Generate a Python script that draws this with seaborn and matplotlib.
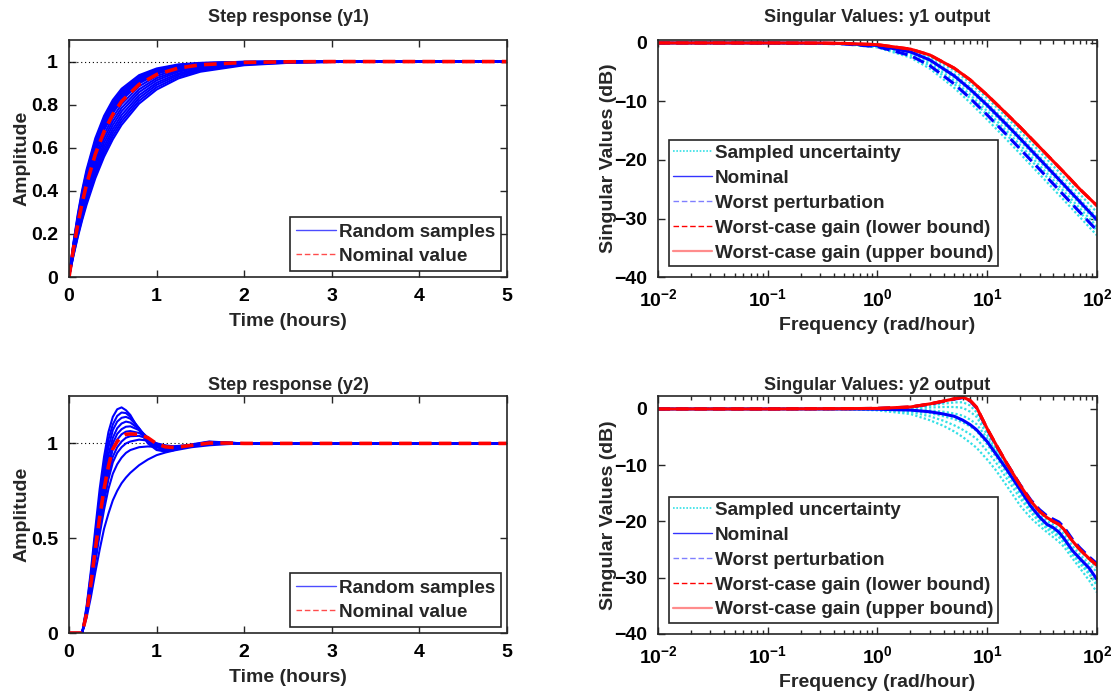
import numpy as np
import pandas as pd
import seaborn as sns
import matplotlib.pyplot as plt
from matplotlib.lines import Line2D
from matplotlib.ticker import LogLocator, NullFormatter

# ---- step response y1 ----
t1 = [0, 0.05, 0.1, 0.15, 0.2, 0.3, 0.4, 0.5, 0.6, 0.8, 1.0, 1.25, 1.5, 2.0, 2.5, 3.0, 4.0, 5.0]
y1_samples = [
    [0, .158, .292, .404, .498, .644, .748, .822, .874, .937, .968, .987, .994, .999, 1, 1, 1, 1],
    [0, .154, .283, .393, .487, .632, .736, .811, .865, .930, .964, .984, .993, .999, 1, 1, 1, 1],
    [0, .149, .276, .384, .475, .620, .725, .801, .856, .924, .960, .982, .992, .998, 1, 1, 1, 1],
    [0, .145, .268, .374, .465, .608, .713, .790, .847, .918, .956, .980, .991, .998, 1, 1, 1, 1],
    [0, .141, .261, .365, .454, .597, .702, .780, .838, .911, .952, .977, .989, .998, 1, 1, 1, 1],
    [0, .137, .255, .357, .445, .586, .691, .770, .829, .905, .947, .975, .988, .997, .999, 1, 1, 1],
    [0, .133, .249, .349, .435, .576, .681, .760, .820, .898, .943, .972, .986, .997, .999, 1, 1, 1],
    [0, .126, .237, .333, .418, .556, .661, .741, .802, .885, .933, .966, .983, .996, .999, 1, 1, 1],
    [0, .120, .226, .319, .401, .537, .642, .723, .785, .871, .923, .959, .979, .994, .998, 1, 1, 1],
    [0, .115, .217, .307, .386, .519, .623, .705, .769, .858, .913, .953, .974, .992, .998, .999, 1, 1],
    [0, .110, .208, .295, .372, .502, .605, .687, .752, .844, .902, .945, .969, .990, .997, .999, 1, 1],
    [0, .105, .199, .283, .359, .487, .589, .671, .736, .831, .892, .938, .964, .988, .996, .999, 1, 1],
    [0, .101, .192, .273, .347, .472, .573, .655, .721, .818, .881, .930, .959, .986, .995, .998, 1, 1],
    [0, .097, .185, .264, .335, .458, .558, .639, .706, .805, .870, .922, .953, .983, .994, .998, 1, 1],
]
y1_nominal = [0, .130, .245, .344, .430, .570, .675, .755, .815, .894, .940, .970, .985, .996, .999, 1, 1, 1]

# ---- step response y2 ----
t2 = [0, 0.15, 0.2, 0.25, 0.3, 0.35, 0.4, 0.45, 0.5, 0.55, 0.6, 0.65, 0.7, 0.8, 0.9,
      1.0, 1.1, 1.2, 1.4, 1.6, 1.8, 2.0, 2.5, 3.0, 4.0, 5.0]
y2_samples = [
    [0, 0, .14, .33, .55, .76, .93, 1.06, 1.14, 1.18, 1.19, 1.175, 1.15, 1.07, 1.0, .965, .957, .965, .995, 1.01, 1.005, 1.0, 1, 1, 1, 1],
    [0, 0, .13, .31, .52, .72, .89, 1.02, 1.10, 1.145, 1.163, 1.16, 1.14, 1.08, 1.01, .97, .96, .965, .993, 1.008, 1.004, 1.0, 1, 1, 1, 1],
    [0, 0, .12, .29, .49, .68, .85, .98, 1.07, 1.115, 1.135, 1.14, 1.13, 1.08, 1.02, .98, .965, .967, .99, 1.006, 1.004, 1.0, 1, 1, 1, 1],
    [0, 0, .115, .28, .47, .65, .81, .94, 1.03, 1.08, 1.105, 1.115, 1.11, 1.075, 1.03, .985, .968, .968, .99, 1.005, 1.003, 1.0, 1, 1, 1, 1],
    [0, 0, .11, .27, .45, .62, .78, .90, 1.0, 1.05, 1.075, 1.088, 1.09, 1.07, 1.03, .99, .972, .97, .99, 1.004, 1.003, 1, 1, 1, 1, 1],
    [0, 0, .105, .26, .43, .60, .75, .87, .97, 1.02, 1.048, 1.062, 1.065, 1.055, 1.03, .995, .978, .973, .99, 1.003, 1.002, 1, 1, 1, 1, 1],
    [0, 0, .10, .25, .41, .57, .72, .84, .93, .98, 1.01, 1.03, 1.038, 1.04, 1.025, 1.0, .985, .978, .99, 1.002, 1.002, 1, 1, 1, 1, 1],
    [0, 0, .095, .24, .39, .55, .69, .81, .90, .95, .98, 1.0, 1.01, 1.02, 1.015, 1.0, .99, .984, .99, 1.0, 1.001, 1, 1, 1, 1, 1],
    [0, 0, .09, .22, .37, .52, .65, .76, .84, .89, .925, .95, .965, .98, .984, .982, .982, .985, .993, 1.0, 1.0, 1, 1, 1, 1, 1],
    [0, 0, .08, .19, .32, .44, .55, .63, .70, .75, .79, .82, .845, .885, .915, .938, .952, .963, .98, .99, .996, 1.0, 1, 1, 1, 1],
]
y2_nominal = [0, 0, .10, .26, .44, .61, .76, .88, .97, 1.01, 1.035, 1.048, 1.05, 1.048, 1.03, .998, .982, .978, .99, 1.002, 1.002, 1, 1, 1, 1, 1]

# ---- singular values, y1 output (dB) ----
w1 = [0.01, 0.1, 0.3, 0.5, 1, 2, 3, 5, 7, 10, 15, 20, 30, 50, 70, 100]
sv1_samples = [
    [0, 0, -.03, -.09, -.33, -1.19, -2.32, -4.71, -6.85, -9.46, -12.7, -15.1, -18.55, -22.94, -25.86, -28.95],
    [0, 0, -.04, -.10, -.40, -1.41, -2.71, -5.32, -7.57, -10.26, -13.55, -15.96, -19.42, -23.82, -26.74, -29.83],
    [0, -.005, -.045, -.125, -.475, -1.65, -3.1, -5.9, -8.24, -10.99, -14.31, -16.74, -20.21, -24.62, -27.54, -30.63],
    [0, -.006, -.053, -.146, -.557, -1.9, -3.49, -6.46, -8.87, -11.67, -15.02, -17.46, -20.94, -25.36, -28.27, -31.37],
    [0, -.007, -.06, -.17, -.64, -2.15, -3.87, -6.99, -9.46, -12.3, -15.68, -18.13, -21.6, -26.03, -28.95, -32.04],
    [0, -.008, -.075, -.205, -.77, -2.49, -4.38, -7.66, -10.21, -13.09, -16.49, -18.95, -22.44, -26.86, -29.78, -32.87],
]
sv1_nominal = [0, -.005, -.04, -.11, -.44, -1.53, -2.9, -5.61, -7.91, -10.63, -13.94, -16.36, -19.83, -24.23, -27.15, -30.24]
sv1_worst = [0, -.007, -.06, -.17, -.64, -2.15, -3.87, -6.99, -9.46, -12.3, -15.68, -18.13, -21.6, -26.03, -28.95, -32.04]
sv1_lower = [0, 0, -.02, -.08, -.29, -1.05, -2.05, -4.3, -6.3, -8.9, -12.1, -14.4, -17.8, -22.1, -25.0, -27.8]
sv1_upper = [0, 0, -.02, -.08, -.29, -1.05, -2.05, -4.3, -6.3, -8.9, -12.1, -14.4, -17.8, -22.1, -25.0, -27.8]

# ---- singular values, y2 output (dB) ----
w2 = [0.01, 0.1, 0.5, 1, 2, 3, 4, 5, 6, 7, 8, 10, 12, 15, 20, 25, 30, 35, 40, 45, 50, 60, 70, 85, 100]
sv2_samples = [
    [0, 0, 0, .05, .25, .6, .95, 1.15, 1.2, .6, -.6, -4.0, -6.8, -10.0, -13.9, -16.6, -18.4, -19.5, -20.1, -20.7, -21.6, -23.6, -25.2, -26.9, -28.2],
    [0, 0, 0, 0, .1, .25, .35, .35, .2, -.5, -1.4, -4.6, -7.3, -10.5, -14.2, -16.9, -18.8, -19.9, -20.6, -21.3, -22.3, -24.4, -25.9, -27.6, -29.0],
    [0, 0, 0, -.05, -.1, -.25, -.5, -.8, -1.2, -1.9, -2.7, -5.2, -7.6, -10.6, -14.6, -17.5, -19.4, -20.7, -21.4, -22.2, -23.3, -25.5, -27.0, -28.8, -30.6],
    [0, 0, -.01, -.1, -.3, -.75, -1.3, -1.8, -2.4, -3.1, -3.9, -6.3, -8.5, -11.4, -15.2, -18.0, -19.8, -21.0, -21.7, -22.5, -23.5, -25.7, -27.2, -29.1, -31.0],
    [0, 0, -.02, -.15, -.55, -1.3, -2.1, -2.9, -3.7, -4.5, -5.3, -7.5, -9.5, -12.3, -15.9, -18.4, -20.1, -21.3, -22.1, -22.8, -23.8, -25.9, -27.5, -29.4, -31.4],
    [0, 0, -.03, -.25, -.9, -2.0, -3.0, -4.0, -5.0, -6.0, -6.9, -9.0, -10.9, -13.6, -17.2, -19.4, -20.8, -21.9, -22.8, -23.6, -24.5, -26.6, -28.3, -30.5, -32.6],
]
sv2_nominal = [0, 0, 0, -.05, -.2, -.5, -.9, -1.3, -2.0, -2.8, -3.7, -5.8, -8.0, -10.7, -14.4, -17.3, -19.2, -20.5, -21.1, -21.9, -23.0, -25.2, -26.6, -28.3, -30.3]
sv2_worst = [0, 0, .05, .1, .33, .85, 1.35, 1.75, 2.0, 1.4, .2, -3.6, -6.4, -9.6, -13.5, -16.2, -17.9, -19.0, -19.6, -20.1, -21.0, -23.2, -24.7, -26.3, -27.5]
sv2_lower = [0, 0, .05, .1, .35, .9, 1.4, 1.8, 2.1, 1.5, .3, -3.5, -6.3, -9.6, -13.6, -16.4, -18.2, -19.3, -20.0, -20.5, -21.4, -23.5, -25.0, -26.6, -27.8]
sv2_upper = [0, 0, .05, .1, .35, .9, 1.4, 1.8, 2.1, 1.5, .3, -3.5, -6.3, -9.6, -13.6, -16.4, -18.2, -19.3, -20.0, -20.5, -21.4, -23.5, -25.0, -26.6, -27.8]

# ---- style ----
sns.set_theme(style="ticks")
plt.rcParams["font.family"] = ["Liberation Sans", "DejaVu Sans"]
plt.rcParams["font.weight"] = "bold"
plt.rcParams["axes.labelweight"] = "bold"
plt.rcParams["axes.titleweight"] = "bold"
plt.rcParams["mathtext.fontset"] = "custom"
plt.rcParams["mathtext.rm"] = "Liberation Sans:bold"
plt.rcParams["mathtext.it"] = "Liberation Sans:bold"
plt.rcParams["mathtext.bf"] = "Liberation Sans:bold"

TICK_FS = 14
LABEL_FS = 14
TITLE_FS = 13
LEG_FS = 13.6
EDGE = "#262626"


def style_axes(ax):
    for s in ax.spines.values():
        s.set_visible(True)
        s.set_color(EDGE)
        s.set_linewidth(1.2)
    ax.tick_params(which="both", direction="in", top=True, right=True, colors=EDGE,
                   labelcolor="black", labelsize=TICK_FS, width=1)
    ax.tick_params(which="major", length=5)
    ax.tick_params(which="minor", length=3)
    ax.tick_params(axis="x", which="major", pad=8)
    ax.tick_params(axis="y", which="major", pad=8)
    ax.grid(False)


def long_df(x, curves, xname, yname):
    return pd.DataFrame({
        xname: np.tile(x, len(curves)),
        yname: np.concatenate(curves),
        "run": np.repeat(np.arange(len(curves)), len(x)),
    })


def legend_box(ax, handles, labels, loc, hl, bap, spacing, bpad):
    leg = ax.legend(handles, labels, loc=loc, fontsize=LEG_FS, frameon=True,
                    fancybox=False, framealpha=1, handlelength=hl, handletextpad=0.15,
                    borderpad=bpad, labelspacing=spacing, borderaxespad=bap)
    leg.get_frame().set_edgecolor(EDGE)
    leg.get_frame().set_linewidth(1.2)


def step_panel(ax, t, samples, nominal, title, ylim, yticks, yticklabels, tpad):
    df = long_df(t, samples, "Time", "Amplitude")
    ax.axhline(1, color="black", lw=0.8, ls=(0, (1, 2.5)), zorder=1)
    sns.lineplot(data=df, x="Time", y="Amplitude", units="run", estimator=None,
                 color="#0000ff", lw=1.5, ax=ax, legend=False)
    sns.lineplot(x=t, y=nominal, color="#ff0000", lw=2.6, ax=ax,
                 dashes=False, linestyle=(0, (3.5, 2)))
    ax.set_xlim(0, 5)
    ax.set_ylim(*ylim)
    ax.set_xticks([0, 1, 2, 3, 4, 5])
    ax.set_yticks(yticks)
    ax.set_yticklabels(yticklabels)
    ax.set_title(title, fontsize=TITLE_FS, pad=tpad)
    ax.set_xlabel("Time (hours)", fontsize=LABEL_FS, labelpad=6)
    ax.set_ylabel("Amplitude", fontsize=LABEL_FS, labelpad=0)
    style_axes(ax)
    handles = [Line2D([], [], color="#0000ff", lw=1.0, alpha=0.7),
               Line2D([], [], color="#ff0000", lw=1.0, ls=(0, (4, 2)), alpha=0.7)]
    legend_box(ax, handles, ["Random samples", "Nominal value"], "lower right",
               2.1, 0.3, 0.36, 0.34)


def sv_panel(ax, w, samples, nominal, worst, lower, upper, title, ylim, tpad):
    df = long_df(w, samples, "Frequency", "dB")
    sns.lineplot(data=df, x="Frequency", y="dB", units="run", estimator=None,
                 color="#33e0e6", lw=1.6, ax=ax, legend=False, dashes=False,
                 linestyle=(0, (1, 1)))
    sns.lineplot(x=w, y=nominal, color="#0000ff", lw=2.2, ax=ax)
    sns.lineplot(x=w, y=worst, color="#0000ff", lw=2.2, ax=ax, dashes=False,
                 linestyle=(0, (4, 2)))
    sns.lineplot(x=w, y=lower, color="#ff0000", lw=2.2, ax=ax, dashes=False,
                 linestyle=(0, (4, 2)))
    sns.lineplot(x=w, y=upper, color="#ff0000", lw=2.2, ax=ax)
    ax.set_xscale("log")
    ax.set_xlim(1e-2, 1e2)
    ax.set_ylim(*ylim)
    ax.set_xticks([1e-2, 1e-1, 1e0, 1e1, 1e2])
    ax.set_xticklabels([r"$10^{-2}$", r"$10^{-1}$", r"$10^{0}$", r"$10^{1}$", r"$10^{2}$"])
    ax.xaxis.set_minor_locator(LogLocator(base=10, subs=np.arange(2, 10), numticks=20))
    ax.xaxis.set_minor_formatter(NullFormatter())
    ax.set_yticks([0, -10, -20, -30, -40])
    ax.set_title(title, fontsize=TITLE_FS, pad=tpad)
    ax.set_xlabel("Frequency (rad/hour)", fontsize=LABEL_FS, labelpad=5)
    ax.set_ylabel("Singular Values (dB)", fontsize=LABEL_FS, labelpad=-2)
    style_axes(ax)
    handles = [Line2D([], [], color="#33e0e6", lw=1.2, ls=(0, (1, 1))),
               Line2D([], [], color="#0000ff", lw=1.0, alpha=0.8),
               Line2D([], [], color="#0000ff", lw=1.0, ls=(0, (4, 2)), alpha=0.5),
               Line2D([], [], color="#ff0000", lw=1.0, ls=(0, (4, 2))),
               Line2D([], [], color="#ff0000", lw=1.6, alpha=0.45)]
    labels = ["Sampled uncertainty", "Nominal", "Worst perturbation",
              "Worst-case gain (lower bound)", "Worst-case gain (upper bound)"]
    legend_box(ax, handles, labels, "lower left", 2.05, 0.6, 0.41, 0.22)


fig = plt.figure(figsize=(11.15, 6.95), dpi=100)
ax1 = fig.add_axes([0.0619, 0.6014, 0.3928, 0.341])
ax2 = fig.add_axes([0.5901, 0.6014, 0.3937, 0.341])
ax3 = fig.add_axes([0.0619, 0.0892, 0.3928, 0.341])
ax4 = fig.add_axes([0.5901, 0.0878, 0.3937, 0.3424])

step_panel(ax1, t1, y1_samples, y1_nominal, "Step response (y1)", (0, 1.1),
           [0, 0.2, 0.4, 0.6, 0.8, 1.0], ["0", "0.2", "0.4", "0.6", "0.8", "1"], 13)
step_panel(ax3, t2, y2_samples, y2_nominal, "Step response (y2)", (0, 1.25),
           [0, 0.5, 1.0], ["0", "0.5", "1"], 4)
sv_panel(ax2, w1, sv1_samples, sv1_nominal, sv1_worst, sv1_lower, sv1_upper,
         "Singular Values: y1 output", (-40, 0.5), 13)
sv_panel(ax4, w2, sv2_samples, sv2_nominal, sv2_worst, sv2_lower, sv2_upper,
         "Singular Values: y2 output", (-40, 2.3), 4)

fig.savefig("out.png", dpi=100)
